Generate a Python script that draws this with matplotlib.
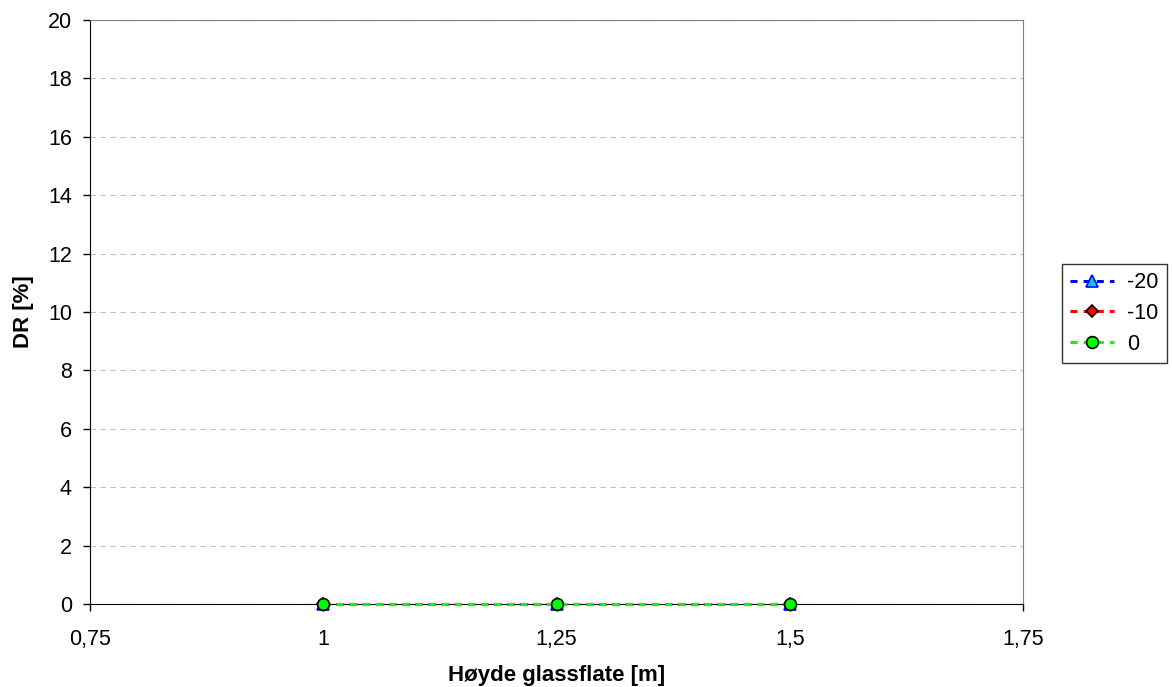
import matplotlib
matplotlib.use("Agg")
import matplotlib.pyplot as plt
from matplotlib.ticker import FuncFormatter, MultipleLocator

plt.rcParams['font.family'] = ['Liberation Sans', 'DejaVu Sans']

heights = [1.0, 1.25, 1.5]
series_labels = ["-20", "-10", "0"]
dr_values = {
    "-20": [0, 0, 0],
    "-10": [0, 0, 0],
    "0": [0, 0, 0],
}
styles = {
    "-20": dict(color="#0000ff", marker="^", mfc="#00ccff", mec="#0000ff", ms=9),
    "-10": dict(color="#ff0000", marker="D", mfc="#ff0000", mec="#000000", ms=6.5),
    "0": dict(color="#00ff00", marker="o", mfc="#00ff00", mec="#000000", ms=8.5),
}

W, H = 1172, 687
fig = plt.figure(figsize=(W / 100, H / 100), dpi=100)
ax = fig.add_axes([90 / W, 1 - 604 / H, 933 / W, 584 / H])

for i, lab in enumerate(series_labels):
    st = styles[lab]
    ax.plot(heights, dr_values[lab], linestyle=(0, (2.3, 2)), linewidth=2.2,
            color=st["color"], marker=st["marker"], markersize=st["ms"],
            markerfacecolor=st["mfc"], markeredgecolor=st["mec"],
            markeredgewidth=1.2, label=lab, clip_on=False, zorder=3 + i)

ax.set_xlim(0.75, 1.75)
ax.set_ylim(0, 20)
ax.xaxis.set_major_locator(MultipleLocator(0.25))
ax.yaxis.set_major_locator(MultipleLocator(2))
ax.xaxis.set_major_formatter(FuncFormatter(lambda v, p: f"{v:g}".replace(".", ",")))
ax.grid(axis="y", color="#c0c0c0", linestyle=(0, (5, 4)), linewidth=0.8)
ax.set_axisbelow(True)

for side in ("top", "right"):
    ax.spines[side].set_color("#808080")
for side in ("left", "bottom"):
    ax.spines[side].set_color("#000000")
ax.tick_params(direction="out", length=5, width=1, labelsize=15.5, colors="black")
ax.tick_params(axis="x", pad=13)
ax.tick_params(axis="y", pad=8)

ax.set_xlabel("Høyde glassflate [m]", fontsize=16, fontweight="bold")
ax.set_ylabel("DR [%]", fontsize=16, fontweight="bold")
ax.xaxis.set_label_coords(0.5, -(665 - 604) / 584)
ax.yaxis.set_label_coords(-(90 - 34) / 933, 0.5)

leg = ax.legend(loc="upper left", bbox_to_anchor=(1062 / W, 1 - 264 / H),
                bbox_transform=fig.transFigure, borderaxespad=0,
                fontsize=15.5, frameon=True, fancybox=False, edgecolor="black",
                handlelength=2.05, handletextpad=0.6, borderpad=0.38,
                labelspacing=0.45)
leg.get_frame().set_linewidth(1.0)

fig.savefig("out.png", dpi=100)
